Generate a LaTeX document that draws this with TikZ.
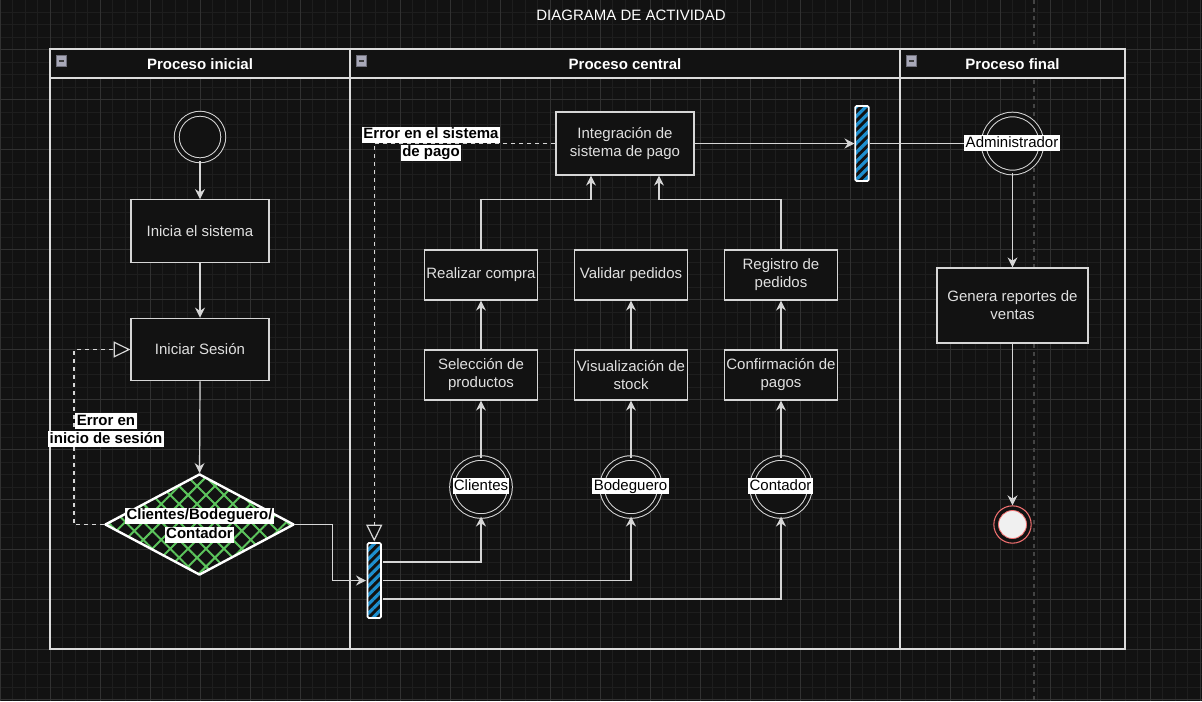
\documentclass[tikz,border=0pt]{standalone}
\usepackage{fontspec}
\setmainfont{Liberation Sans}
\usetikzlibrary{arrows.meta,patterns.meta,shapes.geometric,calc}
\definecolor{bg}{HTML}{121212}
\definecolor{gmin}{HTML}{1E1E1E}
\definecolor{gmaj}{HTML}{313131}
\definecolor{ln}{HTML}{D6D6D6}
\definecolor{lanec}{HTML}{DCDCDC}
\definecolor{tx}{HTML}{E0E0E0}
\definecolor{hgreen}{HTML}{5CC45C}
\definecolor{hblue}{HTML}{1E90D0}
\definecolor{endred}{HTML}{F07070}
\definecolor{endwhite}{HTML}{F0F0F0}
\definecolor{pageline}{HTML}{444444}
\definecolor{iconfill}{HTML}{A8A8B8}
\definecolor{iconedge}{HTML}{70707C}
\newcommand{\fs}{\fontsize{11.25pt}{13.5pt}\selectfont}
\newcommand{\wl}[1]{{\setlength\fboxsep{0pt}\colorbox{white}{\kern1pt\rule[-2.9pt]{0pt}{12pt}#1\kern1pt}}}
\begin{document}
\begin{tikzpicture}[x=0.75pt,y=-0.75pt,
  box/.style={draw=ln,line width=0.9pt,fill=bg,text=tx,font=\fs,align=center,inner sep=0pt},
  bigbox/.style={box,minimum width=103.5pt,minimum height=47pt},
  smallbox/.style={box,minimum width=84.75pt,minimum height=37.5pt},
  actor/.style={circle,draw=ln,line width=0.75pt,double=bg,double distance=2.7pt,fill=bg,minimum size=43.5pt,inner sep=0pt},
  startst/.style={circle,draw=ln,line width=0.75pt,double=bg,double distance=2.9pt,fill=bg,minimum size=34.9pt,inner sep=0pt},
  forkbar/.style={rectangle,draw=white,line width=1.3pt,rounded corners=1pt,minimum width=10pt,minimum height=56.25pt,inner sep=0pt,preaction={fill=bg},pattern={Lines[angle=45,distance=4.8pt,line width=2.4pt]},pattern color=hblue},
  decision/.style={diamond,draw=white,line width=1.8pt,line join=round,minimum width=141.75pt,minimum height=75.75pt,inner sep=0pt,preaction={fill=bg},pattern={Hatch[angle=45,distance=9.5pt,line width=1.5pt]},pattern color=hgreen},
  lbl/.style={font=\fs\bfseries,text=black,align=center,inner sep=0pt},
  alabel/.style={font=\fs,text=black,inner sep=0pt},
  hdr/.style={font=\fs\bfseries,text=white,inner sep=0pt},
  endst/.style={circle,draw=endred,line width=0.8pt,minimum size=28pt,inner sep=0pt,fill=bg},
  endin/.style={circle,draw=endred,line width=0.6pt,fill=endwhite,minimum size=21pt,inner sep=0pt},
  arr/.style={draw=ln,line width=0.9pt,-{Stealth[length=7.5pt,width=7.5pt,inset=2.5pt]}},
  plain/.style={draw=ln,line width=0.9pt},
  errarr/.style={draw=ln,line width=0.9pt,dash pattern=on 3pt off 3pt,-{Triangle[length=12.5pt,width=12pt,fill=bg]}},
  lane/.style={draw=lanec,line width=1.3pt}
]
\useasboundingbox (0,0) rectangle (1202,701);
\fill[bg] (0,0) rectangle (1202,701);
% grid
\foreach \x in {0,12.5,...,1200} \draw[gmin,line width=0.75pt] (\x,0) -- (\x,701);
\foreach \y in {-0.5,12,...,700} \draw[gmin,line width=0.75pt] (0,\y) -- (1202,\y);
\foreach \x in {0,50,...,1200} \draw[gmaj,line width=0.75pt] (\x,0) -- (\x,701);
\foreach \y in {-0.5,49.5,...,700} \draw[gmaj,line width=0.75pt] (0,\y) -- (1202,\y);
% page break line
\draw[pageline,line width=0.9pt,dash pattern=on 3pt off 3pt] (1034,0) -- (1034,701);
% title
\node[font=\fs,text=white,inner sep=0pt] (title) at (631,15) {DIAGRAMA DE ACTIVIDAD};
% lanes
\fill[bg] (50,49) rectangle (1125,78);
\draw[lane] (50,49) rectangle (1125,649);
\draw[lane] (50,78) -- (1125,78);
\draw[lane] (350,49) -- (350,649);
\draw[lane] (900,49) -- (900,649);
\foreach \ix in {56,356,906}{
  \draw[iconedge,fill=iconfill,line width=0.6pt] (\ix,55.5) rectangle (\ix+10.5,66);
  \draw[black!75,line width=1.3pt] (\ix+2.5,60.75) -- (\ix+8,60.75);
}
\node[hdr] (h1) at (200,64.5) {Proceso inicial};
\node[hdr] (h2) at (625,64.5) {Proceso central};
\node[hdr] (h3) at (1012.5,64.5) {Proceso final};
% nodes
\node[startst] (start) at (200,137) {};
\node[bigbox] (inicia) at (200,231) {Inicia el sistema};
\node[bigbox] (sesion) at (200,349.5) {Iniciar Sesión};
\node[decision] (dec) at (199.5,524.5) {};
\node[forkbar] (bar1) at (374.25,580.5) {};
\node[actor] (cli) at (481,487) {};
\node[actor] (bod) at (631,487) {};
\node[actor] (con) at (781,487) {};
\node[smallbox] (sel) at (481,375) {Selección de\\productos};
\node[smallbox] (vis) at (631,375) {Visualización de\\stock};
\node[smallbox] (conf) at (781,375) {Confirmación de\\pagos};
\node[smallbox] (rea) at (481,275) {Realizar compra};
\node[smallbox] (val) at (631,275) {Validar pedidos};
\node[smallbox] (reg) at (781,275) {Registro de\\pedidos};
\node[box,minimum width=103.5pt,minimum height=47.25pt] (integ) at (625,143.5) {Integración de\\sistema de pago};
\node[forkbar] (bar2) at (862,143.5) {};
\node[actor] (adm) at (1012.5,143.5) {};
\node[box,minimum width=113.25pt,minimum height=56.25pt] (gen) at (1012.5,305.5) {Genera reportes de\\ventas};
\node[endst] (fin) at (1012.5,524.5) {};
\node[endin] (finin) at (fin) {};
% connectors
\draw[arr] (start.south) -- (inicia.north);
\draw[arr] (inicia.south) -- (sesion.north);
\draw[arr] (sesion.south) -- (dec.north);
\draw[errarr] (dec.west) -- ++(-30,0) |- (sesion.west);
\draw[arr] (dec.east) -- ++(37.5,0) |- (bar1.west);
\draw[arr] ([yshift=13.9pt]bar1.east) -| (cli.south);
\draw[arr] (bar1.east) -| (bod.south);
\draw[arr] ([yshift=-13.9pt]bar1.east) -| (con.south);
\draw[arr] (cli.north) -- (sel.south);
\draw[arr] (bod.north) -- (vis.south);
\draw[arr] (con.north) -- (conf.south);
\draw[arr] (sel.north) -- (rea.south);
\draw[arr] (vis.north) -- (val.south);
\draw[arr] (conf.north) -- (reg.south);
\draw[arr] (rea.north) -- ++(0,-50) -| ([xshift=-25.5pt]integ.south);
\draw[arr] (reg.north) -- ++(0,-50) -| ([xshift=25.5pt]integ.south);
\draw[errarr] (integ.west) -| (bar1.north);
\draw[arr] (integ.east) -- (bar2.west);
\draw[plain] (bar2.east) -- (adm.west);
\draw[arr] (adm.south) -- (gen.north);
\draw[arr] (gen.south) -- (fin.north);
% labels
\node[lbl,font=\fontsize{11.25pt}{14.25pt}\selectfont\bfseries] (decL) at (199.5,525) {\wl{Clientes/Bodeguero/}\\\wl{Contador}};
\node[alabel] (cliL) at (481,486) {\wl{Clientes}};
\node[alabel] (bodL) at (630.5,486) {\wl{Bodeguero}};
\node[alabel] (conL) at (780.5,486) {\wl{Contador}};
\node[alabel] (admL) at (1012,143) {\wl{Administrador}};
\node[lbl] (err1) at (106,430) {\wl{Error en}\\\wl{inicio de sesión}};
\node[lbl] (err2) at (431,143.5) {\wl{Error en el sistema}\\\wl{de pago}};
\end{tikzpicture}
\end{document}
